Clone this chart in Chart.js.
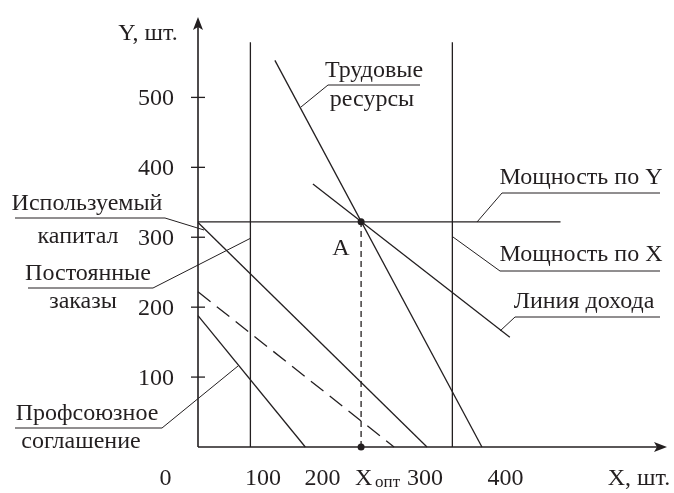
<!DOCTYPE html>
<html>
<head>
<meta charset="utf-8">
<script src="https://cdn.jsdelivr.net/npm/chart.js@4.4.1/dist/chart.umd.min.js"></script>
<style>
  html, body { margin: 0; padding: 0; background: #fff; }
  #plan { display: block; }
</style>
</head>
<body>
<canvas id="plan" width="674" height="493"></canvas>
<script>
// tick labels
var xTicks = [0, 100, 200, 300, 400];
var yTicks = [100, 200, 300, 400, 500];

// constraint lines, [start, end]
var laborX = [126, 371],    laborY = [553, 0];      // трудовые ресурсы
var incomeX = [171, 404],   incomeY = [376, 157];   // линия дохода
var capitalX = [35, 306],   capitalY = [321, 0];    // используемый капитал
var ordersX = [97, 97],     ordersY = [0, 579];     // постоянные заказы
var powerXX = [336, 336],   powerXY = [0, 579];     // мощность по X
var powerYX = [35, 464],    powerYY = [322, 322];   // мощность по Y
var unionX = [35, 162],     unionY = [188, 0];      // профсоюзное соглашение
var shiftX = [35, 267],     shiftY = [222, 0];      // пунктир

// optimum (point A)
var optX = 228, optY = 322;

var ink = '#231f20';
var serif = '"Liberation Serif", "DejaVu Serif", serif';
var fs = 24;

// x labels are set by hand under the axis, small shifts to keep them apart
var xLabelShift = [-3, 10, -15, 3, -1];

function pts(xs, ys) {
    return xs.map(function (x, i) { return { x: x, y: ys[i] }; });
}

function seg(xs, ys, dash) {
    return {
        data: pts(xs, ys),
        borderColor: ink,
        borderWidth: 1.3,
        borderDash: dash || [],
        pointRadius: 0,
        fill: false,
        clip: false
    };
}

// callouts: text rows, underline and leader (canvas px)
var callouts = [
    { rows: [['Трудовые', 374, 69, 1], ['ресурсы', 372, 100, 0]], under: [328, 420, 85], lead: [328, 85, 301, 107] },
    { rows: [['Мощность по Y', 581, 176, 1]], under: [502, 660, 193], lead: [502, 193, 477, 222] },
    { rows: [['Мощность по X', 581, 253, 1]], under: [500, 660, 271], lead: [500, 271, 453, 237] },
    { rows: [['Линия дохода', 584, 300, 1]], under: [515, 660, 317], lead: [515, 317, 500, 331] },
    { rows: [['Используемый', 87, 202, 1], ['капитал', 78, 237, 0]], under: [15, 165, 218], lead: [165, 218, 204, 230] },
    { rows: [['Постоянные', 88, 272, 1], ['заказы', 83, 302, 0]], under: [28, 153, 288], lead: [153, 288, 251, 238] },
    { rows: [['Профсоюзное', 87, 412, 1], ['соглашение', 81, 442, 0]], under: [15, 162, 428], lead: [162, 428, 238, 366] }
];

function line(ctx, x1, y1, x2, y2) {
    ctx.beginPath();
    ctx.moveTo(x1, y1);
    ctx.lineTo(x2, y2);
    ctx.stroke();
}

function text(ctx, s, x, y, caps) {
    // y is the visual middle of the word
    ctx.fillText(s, x, y + (caps ? 0.33 : 0.24) * fs);
}

var figure = {
    id: 'figure',
    afterDatasetsDraw: function (chart) {
        var ctx = chart.ctx, a = chart.chartArea;
        var sx = chart.scales.x, sy = chart.scales.y;
        var x0 = a.left, y0 = sy.getPixelForValue(0);
        ctx.save();
        ctx.strokeStyle = ink;
        ctx.fillStyle = ink;

        // axes with arrows
        ctx.lineWidth = 1.6;
        line(ctx, x0, y0, x0, a.top + 6);
        line(ctx, x0, y0, a.right - 6, y0);
        ctx.beginPath();
        ctx.moveTo(x0, a.top);
        ctx.lineTo(x0 - 5, a.top + 13);
        ctx.lineTo(x0, a.top + 10);
        ctx.lineTo(x0 + 5, a.top + 13);
        ctx.closePath();
        ctx.fill();
        ctx.beginPath();
        ctx.moveTo(a.right, y0);
        ctx.lineTo(a.right - 13, y0 - 5);
        ctx.lineTo(a.right - 10, y0);
        ctx.lineTo(a.right - 13, y0 + 5);
        ctx.closePath();
        ctx.fill();

        ctx.font = fs + 'px ' + serif;
        ctx.lineWidth = 1.3;

        // y ticks
        ctx.textAlign = 'right';
        yTicks.forEach(function (v) {
            var py = sy.getPixelForValue(v);
            line(ctx, x0 - 7, py, x0 + 7, py);
            text(ctx, String(v), 174, py, 1);
        });

        // x labels
        ctx.textAlign = 'center';
        xTicks.forEach(function (v, i) {
            text(ctx, String(v), sx.getPixelForValue(v) + xLabelShift[i], 477, 1);
        });
        var ox = sx.getPixelForValue(optX);
        ctx.textAlign = 'left';
        text(ctx, 'X', ox - 6, 477, 1);
        ctx.font = Math.round(fs * 0.72) + 'px ' + serif;
        ctx.fillText('опт', ox + 14, 477 + 0.33 * fs + 2);
        ctx.font = fs + 'px ' + serif;

        // axis titles and point label
        ctx.textAlign = 'center';
        text(ctx, 'Y, шт.', 148, 32, 1);
        text(ctx, 'X, шт.', 639, 477, 1);
        text(ctx, 'A', 341, 247, 1);

        // callouts
        ctx.lineWidth = 1;
        callouts.forEach(function (c) {
            c.rows.forEach(function (r) { text(ctx, r[0], r[1], r[2], r[3]); });
            line(ctx, c.under[0], c.under[2], c.under[1], c.under[2]);
            line(ctx, c.lead[0], c.lead[1], c.lead[2], c.lead[3]);
        });
        ctx.restore();
    }
};

var ctx = document.getElementById('plan');
var chart = new Chart(ctx, {
    type: 'line',
    data: {
        datasets: [
            seg(powerYX, powerYY),
            seg(ordersX, ordersY),
            seg(powerXX, powerXY),
            seg(laborX, laborY),
            seg(incomeX, incomeY),
            seg(capitalX, capitalY),
            seg(unionX, unionY),
            seg(shiftX, shiftY, [16, 8]),
            seg([optX, optX], [0, optY], [6, 4]),
            {
                data: pts([optX, optX], [optY, 0]),
                showLine: false,
                pointRadius: 3.5,
                pointBackgroundColor: ink,
                pointBorderWidth: 0,
                clip: false
            }
        ]
    },
    options: {
        responsive: false,
        animation: false,
        devicePixelRatio: 1,
        layout: { padding: { left: 198, right: 7, top: 17, bottom: 46 } },
        plugins: { legend: { display: false }, tooltip: { enabled: false } },
        scales: {
            x: { type: 'linear', min: 35, max: 590, display: false },
            y: { type: 'linear', min: 0, max: 615, display: false }
        }
    },
    plugins: [figure]
});
</script>
</body>
</html>
